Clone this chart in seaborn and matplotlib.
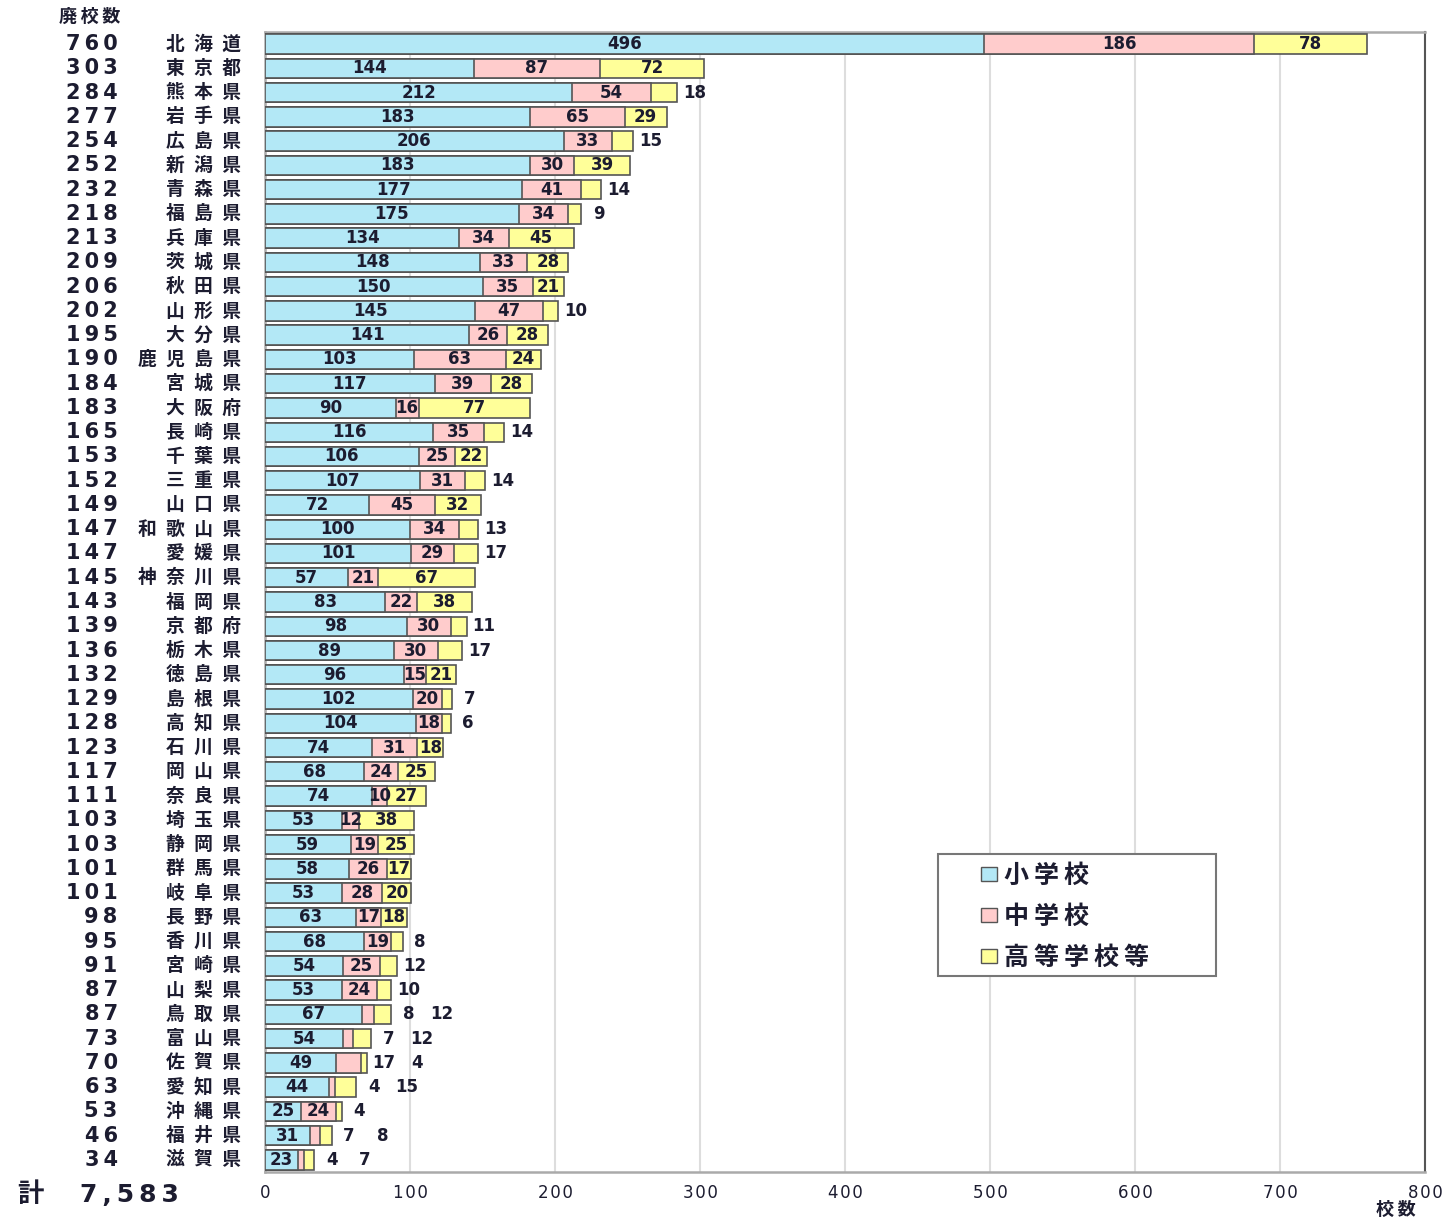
import pandas as pd
import seaborn as sns
import matplotlib.pyplot as plt
from matplotlib.patches import Patch, Rectangle
from matplotlib.transforms import blended_transform_factory

prefectures = ["北海道", "東京都", "熊本県", "岩手県", "広島県", "新潟県", "青森県", "福島県",
               "兵庫県", "茨城県", "秋田県", "山形県", "大分県", "鹿児島県", "宮城県", "大阪府",
               "長崎県", "千葉県", "三重県", "山口県", "和歌山県", "愛媛県", "神奈川県", "福岡県",
               "京都府", "栃木県", "徳島県", "島根県", "高知県", "石川県", "岡山県", "奈良県",
               "埼玉県", "静岡県", "群馬県", "岐阜県", "長野県", "香川県", "宮崎県", "山梨県",
               "鳥取県", "富山県", "佐賀県", "愛知県", "沖縄県", "福井県", "滋賀県"]
elementary = [496, 144, 212, 183, 206, 183, 177, 175, 134, 148, 150, 145, 141, 103, 117, 90,
              116, 106, 107, 72, 100, 101, 57, 83, 98, 89, 96, 102, 104, 74, 68, 74,
              53, 59, 58, 53, 63, 68, 54, 53, 67, 54, 49, 44, 25, 31, 23]
junior_high = [186, 87, 54, 65, 33, 30, 41, 34, 34, 33, 35, 47, 26, 63, 39, 16,
               35, 25, 31, 45, 34, 29, 21, 22, 30, 30, 15, 20, 18, 31, 24, 10,
               12, 19, 26, 28, 17, 19, 25, 24, 8, 7, 17, 4, 24, 7, 4]
high_school = [78, 72, 18, 29, 15, 39, 14, 9, 45, 28, 21, 10, 28, 24, 28, 77,
               14, 22, 14, 32, 13, 17, 67, 38, 11, 17, 21, 7, 6, 18, 25, 27,
               38, 25, 17, 20, 18, 8, 12, 10, 12, 12, 4, 15, 4, 8, 7]
series_names = ["小学校", "中学校", "高等学校等"]
grand_total = "7,583"

# labels drawn to the right of the bar instead of inside
mid_outside = {"鳥取県", "富山県", "佐賀県", "愛知県", "福井県", "滋賀県"}
high_outside = {"熊本県", "広島県", "青森県", "福島県", "山形県", "長崎県", "三重県", "和歌山県",
                "愛媛県", "京都府", "栃木県", "島根県", "高知県", "香川県", "宮崎県", "山梨県",
                "鳥取県", "富山県", "佐賀県", "愛知県", "沖縄県", "福井県", "滋賀県"}

df = pd.DataFrame({"pref": prefectures, "elem": elementary, "mid": junior_high, "high": high_school})
df["total"] = df["elem"] + df["mid"] + df["high"]
df["elem_mid"] = df["elem"] + df["mid"]

colors = ["#b3e8f6", "#ffcccc", "#ffff99"]
edge = "#555555"
txt_color = "#1c1c30"

sns.set_style("white")
plt.rcParams["font.family"] = ["Noto Sans CJK JP", "DejaVu Sans"]


def spaced(s, sep="\u2002"):
    return sep.join(s)


fig = plt.figure(figsize=(14.49, 12.17), dpi=100)
ax = fig.add_axes([265 / 1449, 45 / 1217, 1160 / 1449, 1140 / 1217])

# stacked bars by overlaying cumulative sums
for col, c in zip(["total", "elem_mid", "elem"], colors[::-1]):
    sns.barplot(data=df, x=col, y="pref", order=prefectures, orient="h", color=c,
                saturation=1, edgecolor=edge, linewidth=1.2, width=0.8, ax=ax, zorder=3)

ax.set_xlim(0, 800)
ax.set_ylim(46.5, -0.5)
ax.set_xticks(range(0, 900, 100))
ax.set_xticklabels([spaced(str(v), "\u200a") for v in range(0, 900, 100)], fontsize=12,
                   color=txt_color, family=["DejaVu Sans"])
ax.tick_params(axis="x", length=0, pad=9)
ax.set_yticks([])
ax.set_yticks([i + 0.5 for i in range(-1, 47)], minor=True)
ax.tick_params(axis="y", which="minor", length=5, color="#bbbbbb", width=1)
ax.set_yticklabels([], minor=True)
ax.set_xlabel("")
ax.set_ylabel("")
ax.grid(axis="x", color="#dddddd", linewidth=1.5, zorder=0)
ax.set_axisbelow(True)
for side in ["top", "left", "bottom"]:
    ax.spines[side].set_color("#aaaaaa")
    ax.spines[side].set_linewidth(1.8)
ax.spines["right"].set_color("#555555")
ax.spines["right"].set_linewidth(1.5)

lbl_font = dict(fontsize=12, fontweight="bold", color=txt_color, family=["DejaVu Sans"],
                va="center", ha="center", zorder=5)
for i, row in df.iterrows():
    outs = []
    ax.text(row["elem"] / 2, i, str(row["elem"]), **lbl_font)
    if row["pref"] in mid_outside:
        outs.append(row["mid"])
    else:
        ax.text(row["elem"] + row["mid"] / 2, i, str(row["mid"]), **lbl_font)
    if row["pref"] in high_outside:
        outs.append(row["high"])
    else:
        ax.text(row["elem_mid"] + row["high"] / 2, i, str(row["high"]), **lbl_font)
    for k, v in enumerate(outs):
        ax.text(row["total"] + 12 + 23 * k, i, str(v), **lbl_font)

# left side: totals and prefecture names
tr = blended_transform_factory(ax.transAxes, ax.transData)
for i, row in df.iterrows():
    ax.text(-0.127, i, spaced(str(row["total"]), "\u2009"), transform=tr, ha="right",
            va="center", fontsize=15, fontweight="bold", color=txt_color, family=["DejaVu Sans"])
    ax.text(-0.021, i, spaced(row["pref"]), transform=tr, ha="right", va="center",
            fontsize=13.5, fontweight="bold", color=txt_color)

fig.text(90 / 1449, 1 - 16 / 1217, spaced("廃校数", "\u2009"), ha="center", va="center",
         fontsize=13, fontweight="bold", color=txt_color)
fig.text(30 / 1449, 1 - 1195 / 1217, "計", ha="center", va="center", fontsize=19,
         fontweight="bold", color=txt_color)
fig.text(80 / 1449, 1 - 1195 / 1217, spaced(grand_total, "\u2009"), ha="left", va="center",
         fontsize=18, fontweight="bold", color=txt_color, family=["DejaVu Sans"])
fig.text(1396 / 1449, 1 - 1209 / 1217, spaced("校数", "\u2009"), ha="center", va="center",
         fontsize=13, fontweight="bold", color=txt_color)

# legend with a wide framed box
ax.add_patch(Rectangle((0.580, 0.172), 0.240, 0.107, transform=ax.transAxes, facecolor="white",
                       edgecolor="#777777", linewidth=1.5, zorder=6))
handles = [Patch(facecolor=c, edgecolor=edge, linewidth=1) for c in colors]
leg = ax.legend(handles, [spaced(s, "\u2009") for s in series_names], loc="upper left",
                bbox_to_anchor=(0.617, 0.270), frameon=False,
                prop={"size": 18, "weight": "bold", "family": ["Noto Sans CJK JP", "DejaVu Sans"]},
                handlelength=0.65, handleheight=0.5, handletextpad=0.3, labelspacing=0.68,
                borderpad=0, borderaxespad=0)
leg.set_zorder(7)
for t in leg.get_texts():
    t.set_color(txt_color)

plt.savefig("out.png", dpi=100)
